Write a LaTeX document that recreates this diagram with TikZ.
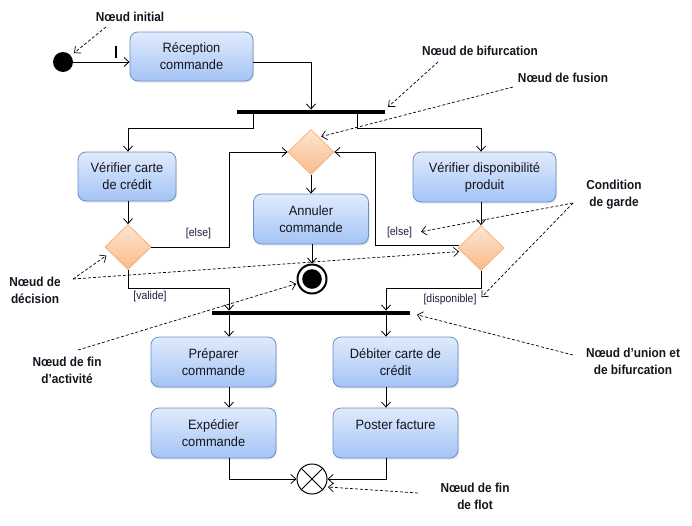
\documentclass[tikz,border=0pt]{standalone}
\usepackage{fontspec}
\setmainfont{Liberation Sans}
\newfontfamily\notefont[FakeStretch=0.91]{Liberation Sans}
\newfontfamily\boxfont[FakeStretch=0.95]{Liberation Sans}
\usetikzlibrary{arrows.meta,shapes.geometric,calc,shadows}
\definecolor{boxtop}{RGB}{224,235,252}
\definecolor{boxbot}{RGB}{164,196,245}
\definecolor{boxline}{RGB}{108,143,200}
\definecolor{dtop}{RGB}{253,230,210}
\definecolor{dbot}{RGB}{250,186,138}
\definecolor{dline}{RGB}{246,176,116}
\definecolor{guardc}{RGB}{25,30,60}
\definecolor{textc}{RGB}{20,20,30}
\begin{document}
\begin{tikzpicture}[x=1pt,y=-1pt,
  action/.style={rectangle, rounded corners=8pt, draw=boxline, line width=0.8pt,
    top color=boxtop, bottom color=boxbot, align=center, text=textc,
    font=\boxfont\fontsize{13.5}{17}\selectfont, inner sep=2pt,
    drop shadow={opacity=0.2,shadow xshift=1pt,shadow yshift=-1.5pt}},
  decision/.style={diamond, draw=dline, line width=0.8pt, top color=dtop, bottom color=dbot,
    minimum width=46pt, minimum height=45pt, inner sep=0pt},
  bar/.style={rectangle, fill=black, inner sep=0pt, minimum height=4.5pt},
  flow/.style={draw, line width=0.8pt, -{Straight Barb[length=5pt,width=9pt]}},
  ann/.style={draw, line width=0.7pt, dash pattern=on 3pt off 2pt,
    -{Straight Barb[length=5pt,width=9pt]}},
  note/.style={font=\notefont\bfseries\fontsize{13}{17}\selectfont, text=textc, align=center, inner sep=1pt},
  guard/.style={font=\notefont\fontsize{11.5}{13}\selectfont, text=guardc, inner sep=2pt}
]
\useasboundingbox (0,0) rectangle (692,525);

% initial node
\node[circle, fill=black, minimum size=20pt, inner sep=0pt] (init) at (63,62) {};
\node[action, minimum width=123pt, minimum height=49pt] (rec) at (191.5,56.5) {Réception\\commande};
\draw[line width=2pt] (116,46) -- (116,58);

% fork bar
\node[bar, minimum width=148pt] (fork) at (311,112) {};
% merge
\node[decision] (merge) at (311,152) {};
% actions
\node[action, minimum width=98pt, minimum height=49pt] (vcc) at (127,176.5) {Vérifier carte\\de crédit};
\node[action, minimum width=143pt, minimum height=50pt] (vdp) at (484.5,177) {Vérifier disponibilité\\produit};
\node[action, minimum width=115pt, minimum height=50pt] (ann) at (311,219) {Annuler\\commande};
% decisions
\node[decision] (decL) at (128,247) {};
\node[decision] (decR) at (481,248) {};
% activity final
\node[circle, draw, line width=2pt, minimum size=29pt, inner sep=0pt,
  path picture={\fill[black] (path picture bounding box.center) circle (9.8pt);}] (afin) at (312,279) {};
% join bar
\node[bar, minimum width=198pt] (join) at (311,313) {};
% lower actions
\node[action, minimum width=125pt, minimum height=50pt] (prep) at (213.5,362) {Préparer\\commande};
\node[action, minimum width=125pt, minimum height=50pt] (deb) at (395.5,362) {Débiter carte de\\crédit};
\node[action, minimum width=125pt, minimum height=50pt] (exp) at (213.5,433) {Expédier\\commande};
\node[action, minimum width=125pt, minimum height=50pt] (post) at (395.5,433) {Poster facture\\\mbox{}};
% flow final
\node[circle, draw, line width=1pt, minimum size=30pt, inner sep=0pt] (ffin) at (312,479) {};
\draw[line width=1pt] (ffin.north west) -- (ffin.south east);
\draw[line width=1pt] (ffin.north east) -- (ffin.south west);

% helper coordinates
\coordinate (fl) at (253,128);
\coordinate (fr) at (357,128);
\coordinate (el) at (229,152);
\coordinate (er) at (375,152);
\coordinate (vl) at (229,288);
\coordinate (dl) at (386,288);

% connectors
\draw[flow] (init) -- (init -| rec.west);
\draw[flow] (rec.east |- init) -| (fork.north -| merge);
\draw[flow] (fork.south -| fl) -- (fl) -| (vcc.north -| decL);
\draw[flow] (fork.south -| fr) -- (fr) -| (vdp.north -| decR);
\draw[flow] (vcc.south -| decL) -- (decL.north);
\draw[flow] (vdp.south -| decR) -- (decR.north);
\draw[flow] (decL.east) -| (el) -- (merge.west);
\draw[flow] ($(decR.west)+(1,-2.5)$) -| (er) -- (merge.east);
\draw[flow] (merge.south) -- (merge.south |- ann.north);
\draw[flow] (ann.south -| afin) -- (afin.north);
\draw[flow] (decL.south) |- (vl) -- (vl |- join.north);
\draw[flow] (decR.south) |- (dl) -- (dl |- join.north);
\draw[flow] (join.south -| vl) -- (vl |- prep.north);
\draw[flow] (join.south -| dl) -- (dl |- deb.north);
\draw[flow] (prep.south -| vl) -- (vl |- exp.north);
\draw[flow] (deb.south -| dl) -- (dl |- post.north);
\draw[flow] (exp.south -| vl) |- (ffin.west);
\draw[flow] (post.south -| dl) |- (ffin.east);

% guard labels
\node[guard] (gElseL) at (198.5,234) {[else]};
\node[guard] (gElseR) at (399.5,233) {[else]};
\node[guard] (gValide) at (150,297) {[valide]};
\node[guard] (gDispo) at (450,300) {[disponible]};

% annotations
\node[note] (nInit) at (130,17) {Nœud initial};
\node[note] (nBif) at (480,51) {Nœud de bifurcation};
\node[note] (nFus) at (563,78) {Nœud de fusion};
\node[note] (nCond) at (614,194.5) {Condition\\de garde};
\node[note] (nDec) at (35,290) {Nœud de\\décision};
\node[note] (nFinA) at (67,370.5) {Nœud de fin\\d’activité};
\node[note] (nUnion) at (633,361.5) {Nœud d’union et\\de bifurcation};
\node[note] (nFlot) at (475,496.5) {Nœud de fin\\de flot};

\coordinate (tInit) at (106,27);
\coordinate (tBif) at (438,62);
\coordinate (tFus) at (513,87);
\coordinate (tCond) at (573,203);
\coordinate (tDec) at (73,279);
\coordinate (tFinA) at (78,350);
\coordinate (tUnion) at (573,355);
\coordinate (tFlot) at (418,493);

\draw[ann, shorten >=4pt] (tInit) -- (init);
\draw[ann, shorten >=4pt] (tBif) -- (fork.north east);
\draw[ann, shorten >=2pt] (tFus) -- ($(merge.north)!0.35!(merge.east)$);
\draw[ann, shorten >=7pt] (tCond) -- (gElseR.east);
\draw[ann, shorten >=4pt] (tCond) -- (gDispo.east);
\draw[ann, shorten >=5pt] (tDec) -- ($(decL.west)!0.25!(decL.south)$);
\draw[ann, shorten >=2pt] (tDec) -- ($(decR.west)!0.15!(decR.south)$);
\draw[ann, shorten >=1pt] (tFinA) -- (afin);
\draw[ann, shorten >=7pt] (tUnion) -- (join.east);
\draw[ann] (tFlot) -- ($(ffin)+(16,8)$);
\end{tikzpicture}
\end{document}
